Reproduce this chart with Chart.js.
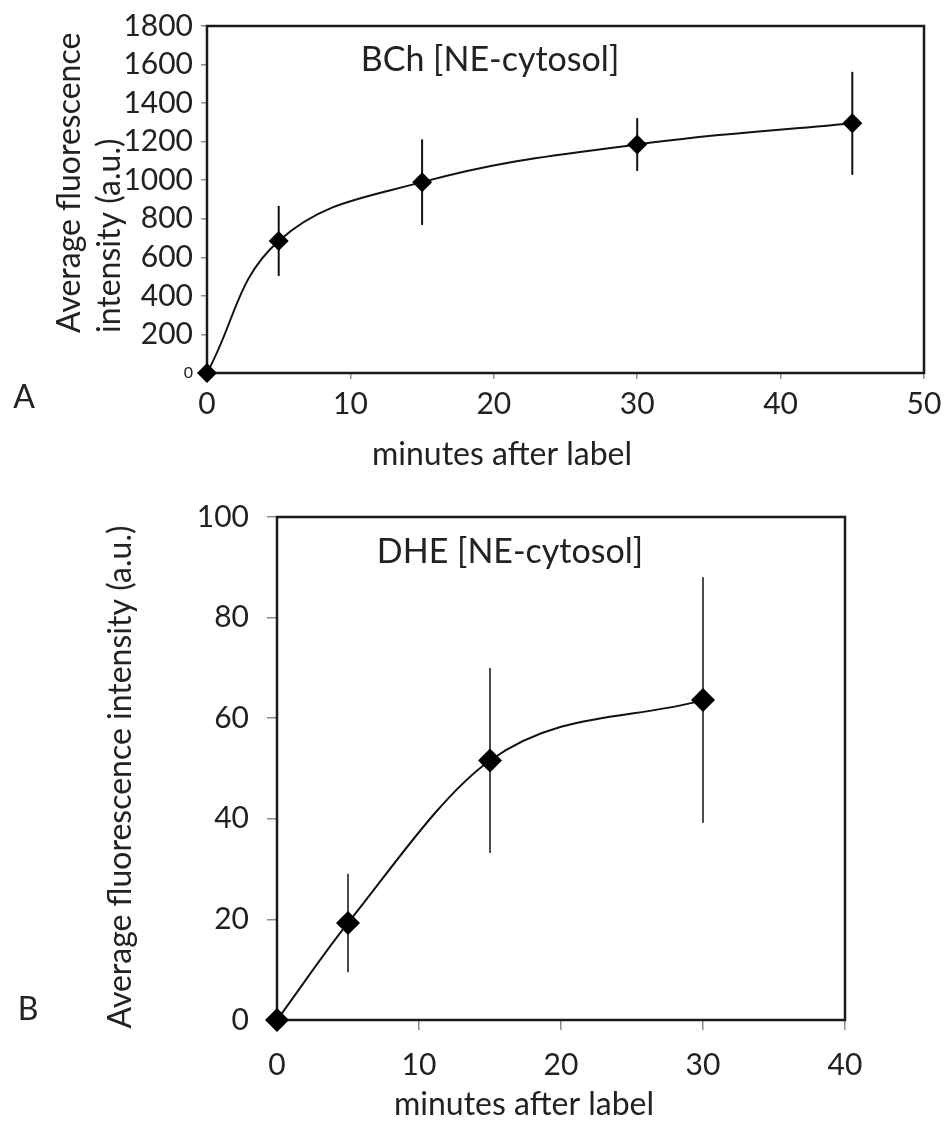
<!DOCTYPE html>
<html>
<head>
<meta charset="utf-8">
<script src="https://cdn.jsdelivr.net/npm/chart.js@4.4.1/dist/chart.umd.min.js"></script>
<style>
  html, body { margin: 0; padding: 0; background: #fff; }
  canvas { display: block; }
</style>
</head>
<body>
<canvas id="bchChart" width="950" height="480"></canvas>
<canvas id="dheChart" width="950" height="642"></canvas>
<script>
// Panel A: BCh, NE-cytosol
const bchMinutes = [0, 5, 15, 30, 45];
const bchMean = [0, 685, 990, 1185, 1295];
const bchSd = [0, 182, 222, 137, 267];

// Panel B: DHE, NE-cytosol
const dheMinutes = [0, 5, 15, 30];
const dheMean = [0, 19.3, 51.6, 63.6];
const dheSd = [0, 9.8, 18.4, 24.4];

const FONT = "Lato, 'Open Sans', sans-serif";
const INK = '#222';

// vertical error bars, drawn under the markers
const errorBars = {
    id: 'errorBars',
    beforeDatasetsDraw(chart, args, opts) {
        const ctx = chart.ctx;
        const xs = chart.scales.x, ys = chart.scales.y;
        chart.data.datasets.forEach((ds) => {
            if (!ds.sd) return;
            ctx.save();
            ctx.strokeStyle = '#111';
            ctx.lineWidth = opts.width || 1.5;
            ds.data.forEach((p, i) => {
                const s = ds.sd[i];
                if (!s) return;
                const px = xs.getPixelForValue(p.x);
                ctx.beginPath();
                ctx.moveTo(px, ys.getPixelForValue(p.y - s));
                ctx.lineTo(px, ys.getPixelForValue(p.y + s));
                ctx.stroke();
            });
            ctx.restore();
        });
    }
};

// closed box around the plot area
const frame = {
    id: 'frame',
    beforeDatasetsDraw(chart, args, opts) {
        const { ctx, chartArea: a } = chart;
        ctx.save();
        ctx.strokeStyle = '#1a1a1a';
        ctx.lineWidth = opts.width || 2.5;
        ctx.strokeRect(a.left, a.top, a.right - a.left, a.bottom - a.top);
        ctx.restore();
    }
};

// panel letter, inset title and axis titles
const freeText = {
    id: 'freeText',
    afterDraw(chart, args, opts) {
        const ctx = chart.ctx;
        (opts.items || []).forEach((it) => {
            ctx.save();
            ctx.font = it.font;
            ctx.fillStyle = INK;
            ctx.textAlign = it.align || 'center';
            ctx.textBaseline = 'middle';
            ctx.translate(it.x, it.y);
            if (it.rotate) ctx.rotate(-Math.PI / 2);
            ctx.fillText(it.text, 0, 0);
            ctx.restore();
        });
    }
};

function axis(min, max, step, tickLength, padding, fit, smallZero) {
    return {
        type: 'linear',
        min: min,
        max: max,
        ticks: {
            stepSize: step,
            autoSkip: false,
            color: INK,
            padding: padding,
            callback: (v) => String(v),
            font: (c) => ({
                family: FONT,
                size: smallZero && c.tick && c.tick.value === 0 ? 16 : 30
            })
        },
        grid: { drawOnChartArea: false, drawTicks: true, tickLength: tickLength, color: '#8c8c8c', lineWidth: 1.5 },
        border: { display: false },
        afterFit: fit
    };
}

function series(xs, ys, sd, radius, curve) {
    return {
        data: xs.map((m, i) => ({ x: m, y: ys[i] })),
        sd: sd,
        borderColor: '#111',
        borderWidth: 2,
        backgroundColor: '#000',
        pointStyle: 'rectRot',
        pointRadius: radius,
        pointBorderWidth: 0,
        tension: 0.4,
        cubicInterpolationMode: curve,
        fill: false,
        clip: false
    };
}

new Chart(document.getElementById('bchChart').getContext('2d'), {
    type: 'line',
    data: { datasets: [series(bchMinutes, bchMean, bchSd, 10, 'default')] },
    options: {
        responsive: false,
        animation: false,
        events: [],
        layout: { padding: { top: 22, right: 26, left: 0, bottom: 0 } },
        scales: {
            x: axis(0, 50, 10, 6, 7, (s) => { s.height = 107; }, false),
            y: axis(0, 1800, 200, 6, 8, (s) => { s.width = 207; }, true)
        },
        plugins: {
            legend: { display: false },
            tooltip: { enabled: false },
            errorBars: { width: 2 },
            frame: { width: 2.5 },
            freeText: {
                items: [
                    { text: 'A', x: 24, y: 398, font: '32px ' + FONT },
                    { text: 'BCh [NE-cytosol]', x: 490, y: 60, font: '34px ' + FONT },
                    { text: 'minutes after label', x: 502, y: 455, font: '32px ' + FONT },
                    { text: 'Average fluorescence', x: 70, y: 333, rotate: true, align: 'left', font: '32px ' + FONT },
                    { text: 'intensity (a.u.)', x: 110, y: 333, rotate: true, align: 'left', font: '32px ' + FONT }
                ]
            }
        }
    },
    plugins: [frame, errorBars, freeText]
});

new Chart(document.getElementById('dheChart').getContext('2d'), {
    type: 'line',
    data: { datasets: [series(dheMinutes, dheMean, dheSd, 12, 'monotone')] },
    options: {
        responsive: false,
        animation: false,
        events: [],
        layout: { padding: { top: 37, right: 105, left: 0, bottom: 0 } },
        scales: {
            x: axis(0, 40, 10, 10, 17, (s) => { s.height = 102; }, false),
            y: axis(0, 100, 20, 10, 18, (s) => { s.width = 277; }, false)
        },
        plugins: {
            legend: { display: false },
            tooltip: { enabled: false },
            errorBars: { width: 1.5 },
            frame: { width: 2.5 },
            freeText: {
                items: [
                    { text: 'B', x: 28, y: 530, font: '32px ' + FONT },
                    { text: 'DHE [NE-cytosol]', x: 510, y: 72, font: '34px ' + FONT },
                    { text: 'minutes after label', x: 524, y: 625, font: '32px ' + FONT },
                    { text: 'Average fluorescence intensity (a.u.)', x: 121, y: 297, rotate: true, font: '32px ' + FONT }
                ]
            }
        }
    },
    plugins: [frame, errorBars, freeText]
});
</script>
</body>
</html>
